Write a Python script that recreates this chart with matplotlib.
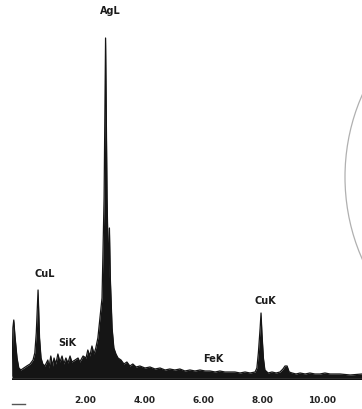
import matplotlib
matplotlib.use("Agg")
import matplotlib.pyplot as plt
from matplotlib.patches import Circle
from matplotlib.lines import Line2D

# EDS spectrum: energy (keV) and counts (arbitrary, px above baseline)
energy = [-0.47, -0.44, -0.41, -0.37, -0.30, -0.24, -0.17, -0.07, 0.03, 0.14,
          0.24, 0.30, 0.35, 0.41, 0.46, 0.51, 0.57, 0.64, 0.74, 0.78,
          0.84, 0.90, 0.95, 1.01, 1.08, 1.15, 1.22, 1.28, 1.35, 1.42,
          1.49, 1.55, 1.66, 1.76, 1.82, 1.93, 2.03, 2.09, 2.16, 2.23,
          2.30, 2.36, 2.43, 2.50, 2.57, 2.64, 2.69, 2.74, 2.79, 2.82,
          2.85, 2.91, 2.97, 3.04, 3.11, 3.21, 3.31, 3.41, 3.51, 3.61,
          3.72, 3.85, 4.02, 4.19, 4.36, 4.53, 4.70, 4.86, 5.03, 5.20,
          5.37, 5.54, 5.71, 5.88, 6.05, 6.22, 6.39, 6.55, 6.72, 6.89,
          7.06, 7.23, 7.40, 7.57, 7.74, 7.80, 7.85, 7.91, 7.94, 7.97,
          8.02, 8.07, 8.18, 8.31, 8.45, 8.58, 8.68, 8.75, 8.82, 8.89,
          8.99, 9.12, 9.26, 9.43, 9.59, 9.76, 9.93, 10.10, 10.27, 10.61,
          10.95, 11.35]
counts = [2, 50, 58, 42, 20, 10, 8, 10, 12, 14,
          18, 25, 45, 88, 40, 20, 14, 12, 18, 10,
          22, 12, 20, 14, 24, 16, 22, 14, 20, 15,
          22, 16, 18, 20, 16, 22, 20, 28, 22, 32,
          24, 30, 40, 60, 80, 180, 340, 180, 100, 150,
          100, 50, 30, 24, 20, 18, 14, 16, 12, 14,
          11, 12, 10, 11, 9, 10, 8, 9, 8, 9,
          7, 8, 7, 8, 7, 7, 6, 7, 6, 6,
          6, 5, 6, 5, 6, 10, 25, 50, 65, 45,
          20, 8, 5, 6, 5, 6, 9, 12, 12, 6,
          5, 4, 5, 4, 5, 4, 4, 5, 4, 4,
          3, 4]

tick_vals = [2, 4, 6, 8, 10]
tick_labels = ["2.00", "4.00", "6.00", "8.00", "10.00"]

peak_names = ["AgL", "CuL", "SiK", "FeK", "CuK"]
peak_pos = [2.86, 0.65, 1.39, 6.32, 8.08]
peak_text_h = [368, 105, 36, 20, 78]

W, H = 362, 410
fig = plt.figure(figsize=(W / 100, H / 100), dpi=100)
fig.patch.set_facecolor("white")
ax = fig.add_axes([12 / W, 29 / H, 350 / W, 350 / H])
ax.set_facecolor("none")

ax.fill_between(energy, counts, 0, color="#151515", linewidth=0)
ax.plot(energy, counts, color="#151515", linewidth=0.9)
ax.axhline(-1, color="#111111", linewidth=1.8)

ax.set_xlim(-0.47, 11.35)
ax.set_ylim(-2, 348)
ax.set_xticks(tick_vals)
ax.set_xticklabels(tick_labels)
ax.tick_params(axis="x", length=0, pad=11, labelsize=6.5, labelcolor="#222222")
for lbl in ax.get_xticklabels():
    lbl.set_fontweight("bold")
ax.set_yticks([])
for spine in ax.spines.values():
    spine.set_visible(False)

for name, e, h in zip(peak_names, peak_pos, peak_text_h):
    ax.text(e, h, name, ha="center", va="center", fontsize=7,
            fontweight="bold", color="#1a1a1a", clip_on=False)

# faint stamp circle at the right edge of the scan, and a small dash bottom-left
fig.add_artist(Circle((506 / W, 1 - 178 / H), 161 / W, transform=fig.transFigure,
                      fill=False, edgecolor="#b0b0b0", linewidth=0.9))
fig.add_artist(Line2D([12 / W, 25 / W], [1 - 405 / H, 1 - 405 / H],
                      color="#555555", linewidth=1.0))

fig.savefig("out.png", dpi=100, facecolor="white")
plt.close(fig)
